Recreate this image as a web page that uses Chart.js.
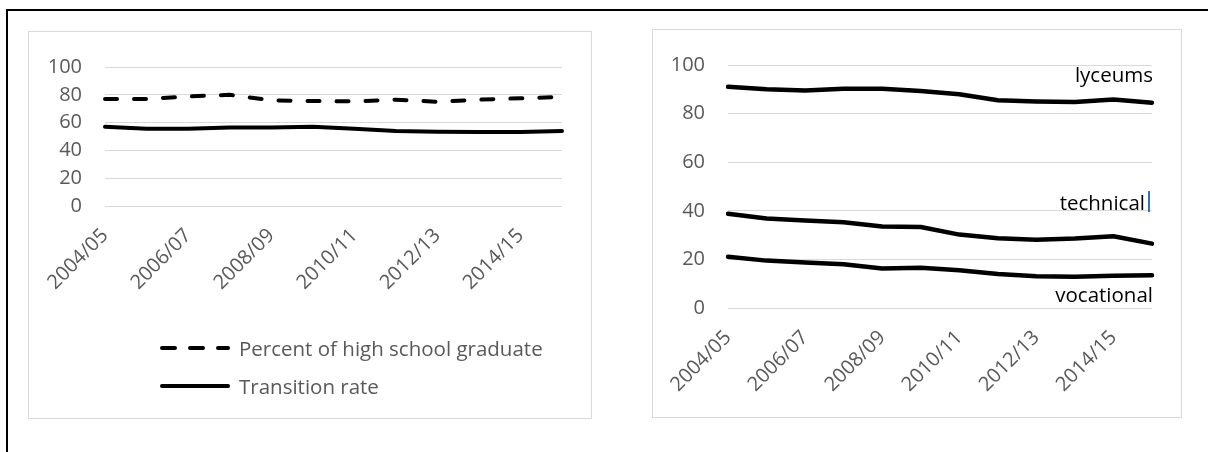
<!DOCTYPE html>
<html>
<head>
<meta charset="utf-8">
<script src="https://cdn.jsdelivr.net/npm/chart.js@4.4.1/dist/chart.umd.min.js"></script>
<style>
html, body { margin: 0; padding: 0; background: #fff; width: 1208px; height: 452px; overflow: hidden; font-family: "Open Sans", sans-serif; }
#frame { position: absolute; left: 6px; top: 9px; width: 1400px; height: 700px; border-left: 2px solid #000; border-top: 2px solid #000; }
.box { position: absolute; border: 1px solid #d9d9d9; box-sizing: border-box; background: #fff; }
#boxL { left: 28px; top: 31px; width: 564px; height: 388px; }
#boxR { left: 652px; top: 29px; width: 530px; height: 389px; }
.box canvas { position: absolute; left: 0; top: 0; }
.legRow { position: absolute; left: 158px; height: 28px; display: flex; align-items: center; color: #595959; font-size: 20.5px; white-space: nowrap; }
.legRow svg { margin-right: 5px; }
</style>
</head>
<body>
<div id="frame"></div>
<div class="box" id="boxL"><canvas id="chartL" width="562" height="386"></canvas></div>
<div class="box" id="boxR"><canvas id="chartR" width="528" height="387"></canvas></div>
<div id="legend"></div>
<script>
// school years on the category axis
const years = ['2004/05', '2005/06', '2006/07', '2007/08', '2008/09', '2009/10',
               '2010/11', '2011/12', '2012/13', '2013/14', '2014/15', '2015/16'];
const yTicks = [0, 20, 40, 60, 80, 100];

// left chart
const graduatePct = [77, 77, 78.8, 80, 76, 75.5, 75.3, 76.5, 75, 76.5, 77.5, 78.5];
const transitionRate = [57, 55.5, 55.5, 56.5, 56.5, 57, 55.5, 54, 53.5, 53.3, 53.3, 54];
const leftNames = ['Percent of high school graduate', 'Transition rate'];

// right chart
const lyceums = [91, 90, 89.5, 90.2, 90.2, 89.3, 88, 85.5, 85, 84.8, 85.8, 84.5];
const technical = [38.8, 36.8, 36, 35.3, 33.5, 33.3, 30.2, 28.7, 28.1, 28.6, 29.5, 26.5];
const vocational = [21.1, 19.5, 18.7, 18, 16.3, 16.6, 15.5, 14, 13.1, 12.9, 13.3, 13.5];
const rightNames = ['lyceums', 'technical', 'vocational'];

const FONT = { family: 'Open Sans', size: 20 };
const GREY = '#595959';

function scales(areaLeft, xHeight) {
  return {
    x: {
      grid: { display: false },
      border: { display: false },
      ticks: {
        color: GREY, font: FONT, autoSkip: false, minRotation: 45, maxRotation: 45, padding: 10,
        callback: (v, i) => (i % 2 === 0 ? years[i] : '')
      },
      afterFit: s => { s.height = xHeight; }
    },
    y: {
      min: 0, max: 100,
      grid: { color: '#d9d9d9', lineWidth: 1, drawTicks: false },
      border: { display: false },
      ticks: { color: GREY, font: FONT, padding: 23 },
      afterBuildTicks: s => { s.ticks = yTicks.map(v => ({ value: v })); },
      afterFit: s => { s.width = areaLeft; }
    }
  };
}

function line(label, data, width, dash) {
  return {
    label: label, data: data,
    borderColor: '#000', backgroundColor: '#000',
    borderWidth: width, borderDash: dash || [],
    borderCapStyle: 'round', borderJoinStyle: 'round',
    tension: 0, pointRadius: 0, fill: false
  };
}

new Chart('chartL', {
  type: 'line',
  data: {
    labels: years,
    datasets: [
      line(leftNames[0], graduatePct, 4, [12, 17]),
      line(leftNames[1], transitionRate, 4)
    ]
  },
  options: {
    responsive: false, animation: false,
    layout: { padding: { top: 29, right: 29, left: 0, bottom: 0 } },
    plugins: { legend: { display: false }, tooltip: { enabled: false } },
    scales: scales(76, 212)
  }
});

// series names written at the right end of each line
const seriesTags = {
  id: 'seriesTags',
  afterDatasetsDraw(chart, args, opts) {
    const { ctx, scales: { x, y } } = chart;
    const xr = x.getPixelForValue(years.length - 1) + opts.shift;
    ctx.save();
    ctx.font = '20.5px "Open Sans"';
    ctx.fillStyle = '#000';
    ctx.textAlign = 'right';
    ctx.textBaseline = 'alphabetic';
    rightNames.forEach((name, i) => {
      const dx = i === opts.cursorOn ? -8 : 0;
      ctx.fillText(name, xr + dx, y.getPixelForValue(opts.baselines[i]));
    });
    // the stray text cursor after "technical"
    const yc = y.getPixelForValue(opts.baselines[opts.cursorOn]);
    ctx.fillStyle = '#2e75b6';
    ctx.fillRect(xr - 5, yc - 19, 2, 21);
    ctx.restore();
  }
};

new Chart('chartR', {
  type: 'line',
  data: {
    labels: years,
    datasets: [
      line(rightNames[0], lyceums, 4.5),
      line(rightNames[1], technical, 4.5),
      line(rightNames[2], vocational, 4.5)
    ]
  },
  options: {
    responsive: false, animation: false,
    layout: { padding: { top: 28, right: 29, left: 0, bottom: 0 } },
    plugins: {
      legend: { display: false }, tooltip: { enabled: false },
      seriesTags: { baselines: [93.2, 40.3, 2.4], shift: 1, cursorOn: 1 }
    },
    scales: scales(75, 109)
  },
  plugins: [seriesTags]
});

// legend of the left chart
const legend = document.getElementById('legend');
leftNames.forEach((name, i) => {
  const row = document.createElement('div');
  row.className = 'legRow';
  row.style.top = (334 + i * 38) + 'px';
  const dash = i === 0 ? ' stroke-dasharray="13 15"' : '';
  row.innerHTML = '<svg width="76" height="10"><line x1="4" y1="5" x2="70" y2="5" stroke="#000" stroke-width="4" stroke-linecap="round"' + dash + '/></svg>';
  const t = document.createElement('span');
  t.textContent = name;
  row.appendChild(t);
  legend.appendChild(row);
});
</script>
</body>
</html>
